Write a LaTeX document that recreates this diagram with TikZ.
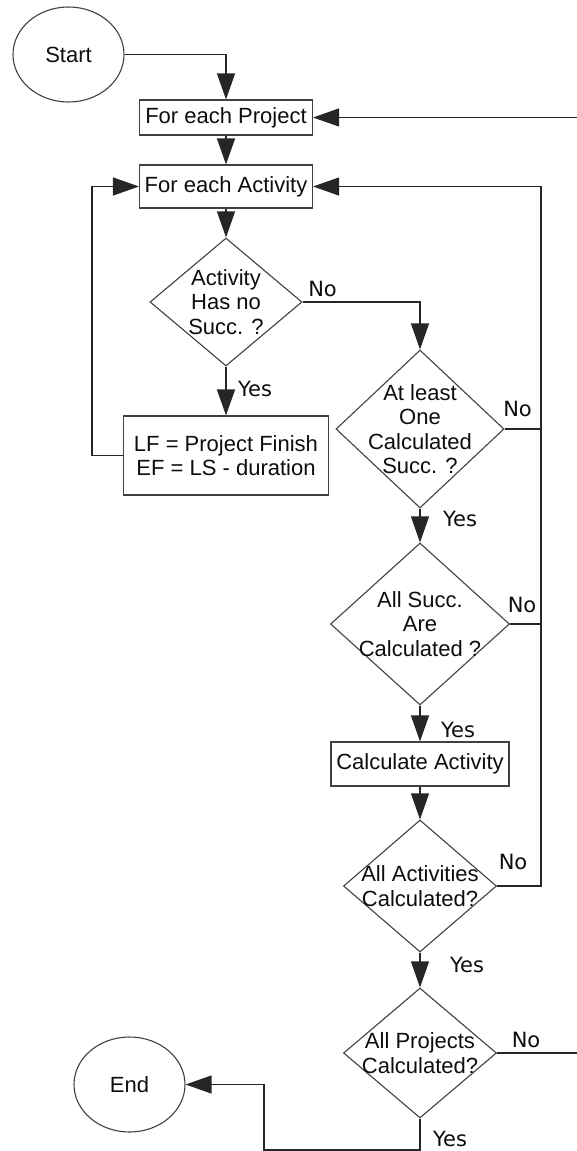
\documentclass[tikz,border=0pt]{standalone}
\usepackage{fontspec}
\setmainfont{Liberation Sans}
\newfontfamily\lblfont{DejaVu Sans}
\usetikzlibrary{arrows.meta,shapes.geometric,calc}

\begin{document}
\begin{tikzpicture}[x=1pt,y=-1pt,
  every node/.style={font=\fontsize{22}{24.5}\selectfont, align=center, text=black!95},
  shp/.style={draw=black!75, line width=1.1pt},
  term/.style={shp, ellipse, minimum width=111pt, minimum height=95pt, inner sep=0pt},
  proc/.style={shp, rectangle, inner sep=0pt},
  dec/.style={shp, diamond, inner sep=0pt},
  ln/.style={draw=black!85, line width=1.2pt},
  arr/.style={ln, -{Triangle[length=26pt,width=18pt]}},
  lbl/.style={font=\lblfont\fontsize{21}{24}\selectfont},
]
\useasboundingbox (0,0) rectangle (577,1151);

% terminals
\node[term] (start) at (68.5,54.5) {Start};
\node[term] (end) at (129.5,1084.5) {End};

% process boxes
\node[proc, minimum width=173pt, minimum height=35pt] (fep) at (226,117.5) {For each Project};
\node[proc, minimum width=173pt, minimum height=43pt] (fea) at (226,186.5) {For each Activity};
\node[proc, minimum width=205pt, minimum height=79pt] (lf) at (226,455.5) {LF = Project Finish\\EF = LS - duration};
\node[proc, minimum width=178pt, minimum height=44pt] (calc) at (420,764) {Calculate Activity};

% decisions (outline and text kept apart so the text may overrun the outline)
\node[dec, minimum width=152pt, minimum height=128pt] (d1) at (226,302) {};
\node (d1t) at (d1) {Activity\\Has no\\Succ. ?};
\node[dec, minimum width=168pt, minimum height=158pt] (d2) at (420,429) {};
\node (d2t) at (d2) {At least\\One\\Calculated\\Succ. ?};
\node[dec, minimum width=179pt, minimum height=162pt] (d3) at (420,624) {};
\node (d3t) at (d3) {All Succ.\\Are\\Calculated ?};
\node[dec, minimum width=153pt, minimum height=132pt] (d4) at (420,886) {};
\node (d4t) at (d4) {All Activities\\Calculated?};
\node[dec, minimum width=153pt, minimum height=130pt] (d5) at (420,1053) {};
\node (d5t) at (d5) {All Projects\\Calculated?};

% loop helpers
\coordinate (railtop) at (541,186.5);
\coordinate (pin) at (577,117.5);
\coordinate (pout) at (577,1053);
\coordinate (ret) at (264,1150);

% connectors
\draw[arr] (start.east) -| (fep.north);
\draw[arr] (pin) -- (fep.east);
\draw[arr] (fep.south) -- (fea.north);
\draw[arr] (fea.south) -- (d1.north);
\draw[arr] (d1.east) -| (d2.north);
\draw[arr] (d1.south) -- (lf.north);
\draw[arr] (lf.west) -- ++(-31,0) |- (fea.west);
\draw[arr] (d2.south) -- (d3.north);
\draw[arr] (d3.south) -- (calc.north);
\draw[arr] (calc.south) -- (d4.north);
\draw[arr] (d4.south) -- (d5.north);
\draw[ln] (d2.east) -- (d2.east -| railtop);
\draw[ln] (d3.east) -- (d3.east -| railtop);
\draw[arr] (d4.east) -| (railtop) -- (fea.east);
\draw[ln] (d5.east) -- (pout);
\draw[arr] (d5.south) |- (ret) |- (end.east);

% branch labels
\node[lbl] (n1) at ($(d1.east)+(20,-13)$) {No};
\node[lbl] (y1) at ($(d1.south)+(29,22)$) {Yes};
\node[lbl] (n2) at ($(d2.east)+(13,-20)$) {No};
\node[lbl] (y2) at ($(d2.south)+(40,10)$) {Yes};
\node[lbl] (n3) at ($(d3.east)+(12,-19)$) {No};
\node[lbl] (y3) at ($(d3.south)+(38,24)$) {Yes};
\node[lbl] (n4) at ($(d4.east)+(16,-24)$) {No};
\node[lbl] (y4) at ($(d4.south)+(47,12)$) {Yes};
\node[lbl] (n5) at ($(d5.east)+(29,-13)$) {No};
\node[lbl] (y5) at ($(d5.south)+(30,20)$) {Yes};
\end{tikzpicture}
\end{document}
